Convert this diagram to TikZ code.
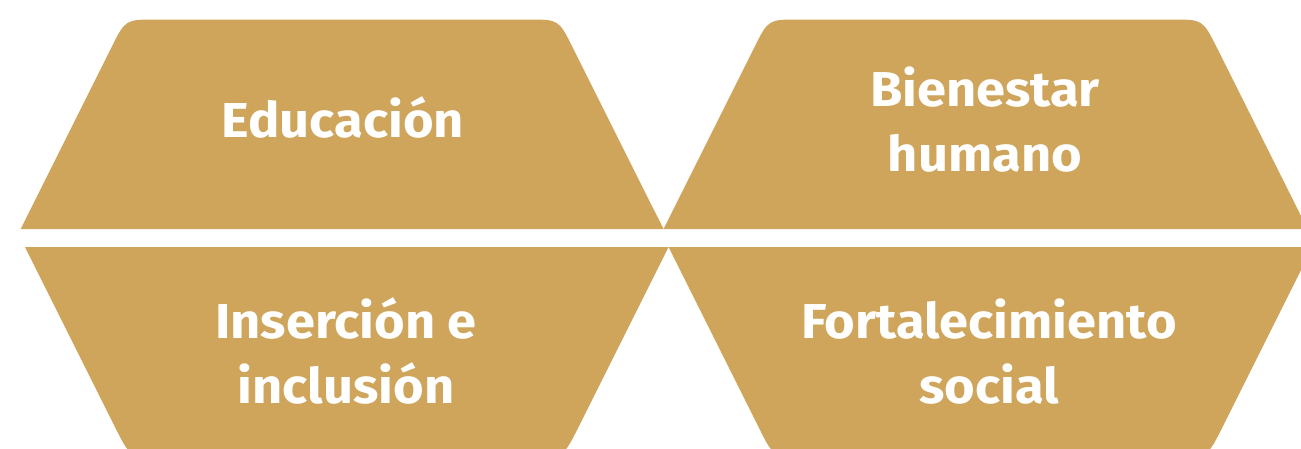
\documentclass[tikz,border=0pt]{standalone}
\usepackage{fontspec}
\setmainfont{Fira Sans}[FakeStretch=1.07]
\usetikzlibrary{positioning}
\definecolor{oro}{HTML}{CFA55C}

\begin{document}
\begin{tikzpicture}[x=1pt,y=-1pt,
  bloque/.style={fill=oro, draw=none},
  rotulo/.style={text=white, anchor=base, align=center, inner sep=0pt,
    font=\fontsize{49}{65}\selectfont\bfseries}]
\useasboundingbox (0,0) rectangle (1301,448);
%\draw[help lines, color=gray!30, dashed] (0,0) grid[step=50] (1301,448);
% fila de arriba
\fill[bloque] (20.7,229) -- (111.5,47.3) .. controls (125.4,19.5) .. (156.4,19.5)
  -- (527.7,19.5) .. controls (558.7,19.5) .. (572.6,47.3) -- (663.5,229) -- cycle;
\fill[bloque] (663.5,229) -- (754.35,47.3) .. controls (768.25,19.5) .. (799.25,19.5)
  -- (1171.75,19.5) .. controls (1202.75,19.5) .. (1216.65,47.3) -- (1307.5,229) -- cycle;
% fila de abajo
\fill[bloque] (25,247) -- (115.85,428.7) .. controls (129.75,456.5) .. (160.75,456.5)
  -- (532.75,456.5) .. controls (563.75,456.5) .. (577.65,428.7) -- (668.5,247) -- cycle;
\fill[bloque] (668.5,247) -- (759.35,428.7) .. controls (773.25,456.5) .. (804.25,456.5)
  -- (1176.75,456.5) .. controls (1207.75,456.5) .. (1221.65,428.7) -- (1312.5,247) -- cycle;
% textos (anclados en la linea base de la ultima linea)
\node[rotulo] (educacion) at (343,137.3) {Educación};
\node[rotulo] (bienestar) at (985,171.7) {Bienestar\\humano};
\node[rotulo] (insercion) at (346,403.3) {Inserción e\\inclusión};
\node[rotulo] (fortalecimiento) at (989,403.3) {Fortalecimiento\\social};
\end{tikzpicture}
\end{document}
